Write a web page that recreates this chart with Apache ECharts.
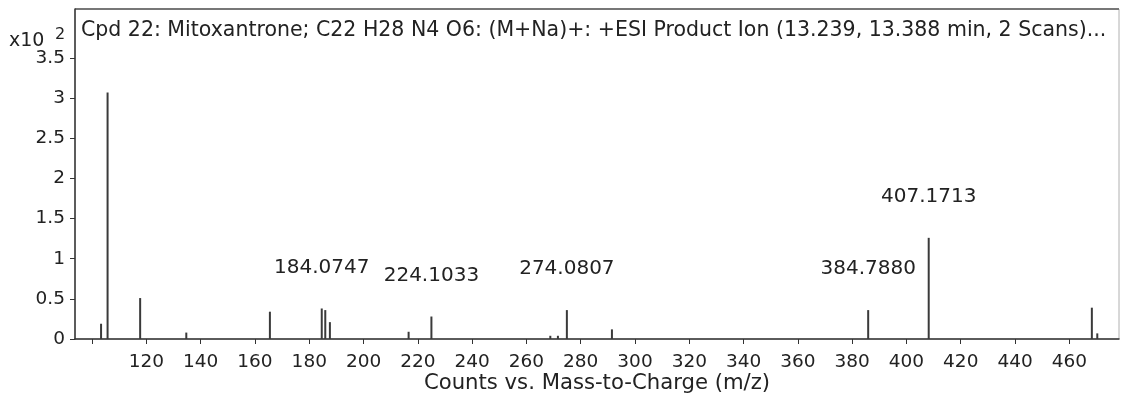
<!DOCTYPE html>
<html>
<head>
<meta charset="utf-8">
<script src="https://cdn.jsdelivr.net/npm/echarts@6/dist/echarts.min.js"></script>
<style>
html,body{margin:0;padding:0;background:#fff;}
#c{width:1121px;height:394px;}
</style>
</head>
<body>
<div id="c"></div>
<script>
// m/z positions of peaks
const mz = [103.3, 105.7, 117.7, 134.7, 165.5, 184.6, 185.9, 187.6, 216.6, 225.0, 268.8, 271.6, 274.9, 291.5, 385.9, 408.2, 468.3, 470.3];
// counts (x10^2)
const counts = [0.19, 3.07, 0.51, 0.08, 0.34, 0.38, 0.36, 0.21, 0.09, 0.28, 0.04, 0.04, 0.36, 0.12, 0.36, 1.26, 0.39, 0.07];
// annotation text per peak ('' = none)
const peakLabels = ["", "", "", "", "", "184.0747", "", "", "", "224.1033", "", "", "274.0807", "", "384.7880", "407.1713", "", ""];
// tick values
const xTicks = [100, 120, 140, 160, 180, 200, 220, 240, 260, 280, 300, 320, 340, 360, 380, 400, 420, 440, 460];
const xTickLabels = [120, 140, 160, 180, 200, 220, 240, 260, 280, 300, 320, 340, 360, 380, 400, 420, 440, 460];
const yTicks = [0, 0.5, 1, 1.5, 2, 2.5, 3, 3.5];
const titleText = "Cpd 22: Mitoxantrone; C22 H28 N4 O6: (M+Na)+: +ESI Product Ion (13.239, 13.388 min, 2 Scans)...";
const xAxisTitle = "Counts vs. Mass-to-Charge (m/z)";

const FONT = "DejaVu Sans, Liberation Sans, Arial, sans-serif";
const chart = echarts.init(document.getElementById('c'));

const data = mz.map((x, i) => {
  const item = { value: [x, counts[i]] };
  if (peakLabels[i]) {
    item.label = { show: true, formatter: peakLabels[i] };
  }
  return item;
});

chart.setOption({
  animation: false,
  backgroundColor: '#fff',
  grid: { left: 75, right: 2, top: 9, bottom: 55, outerBoundsMode: 'none', containLabel: false, show: true, borderColor: '#b0b0b0', borderWidth: 1 },
  title: {
    text: titleText, left: 76, top: 15,
    textStyle: { fontFamily: FONT, fontSize: 20.5, fontWeight: 'normal', color: '#222' }
  },
  graphic: [
    { type: 'text', left: 9, top: 32, style: { text: 'x10', font: '19px ' + FONT, fill: '#222' } },
    { type: 'text', left: 55, top: 27, style: { text: '2', font: '16px ' + FONT, fill: '#222' } },
    { type: 'line', shape: { x1: 75, y1: 9, x2: 1119, y2: 9 }, style: { stroke: '#777', lineWidth: 2 } }
  ],
  xAxis: {
    type: 'value', min: 93.7, max: 478.3,
    splitLine: { show: false },
    axisLine: { show: true, onZero: false, lineStyle: { color: '#333', width: 1.5 } },
    axisTick: { show: true, customValues: xTicks, length: 5, lineStyle: { color: '#333' } },
    axisLabel: { customValues: xTickLabels, fontFamily: FONT, fontSize: 18.5, color: '#222', margin: 14 },
    name: xAxisTitle, nameLocation: 'middle', nameGap: 34, nameMoveOverlap: false,
    nameTextStyle: { fontFamily: FONT, fontSize: 21.2, color: '#222' }
  },
  yAxis: {
    type: 'value', min: 0, max: 4.11,
    splitLine: { show: false },
    axisLine: { show: true, lineStyle: { color: '#333', width: 1.5 } },
    axisTick: { show: true, customValues: yTicks, length: 5, lineStyle: { color: '#333' } },
    axisLabel: { customValues: yTicks, fontFamily: FONT, fontSize: 18.5, color: '#222', margin: 10 }
  },
  series: [{
    type: 'bar',
    data: data,
    barWidth: 2,
    itemStyle: { color: '#3a3a3a' },
    label: { show: false, position: 'top', distance: 31, fontFamily: FONT, fontSize: 20, color: '#222' }
  }]
});
</script>
</body>
</html>
